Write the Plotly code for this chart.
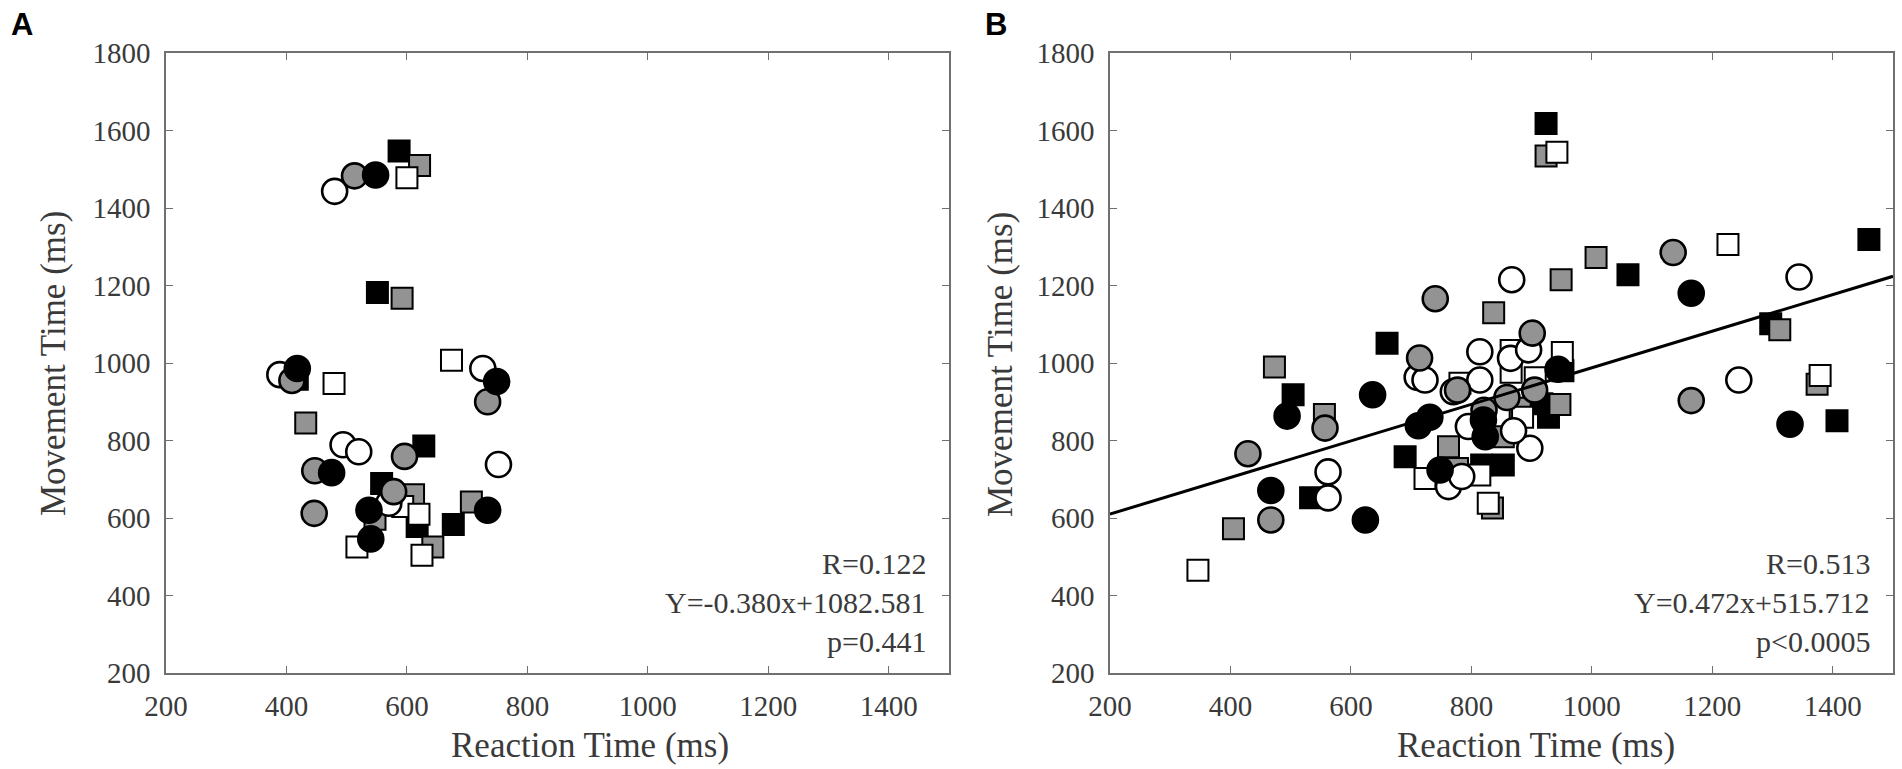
import plotly.graph_objects as go

# ---- panel A: reaction time (x) / movement time (y), ms ----
a_open_circ_rt = [480, 389, 726, 494, 520, 752, 570]
a_open_circ_mt = [1443, 970, 986, 789, 771, 738, 638]
a_gray_circ_rt = [513, 409, 734, 596, 447, 446, 578]
a_gray_circ_mt = [1483, 955, 900, 759, 722, 612, 668]
a_black_circ_rt = [548, 418, 749, 475, 537, 734, 540]
a_black_circ_mt = [1485, 986, 952, 717, 620, 620, 546]
a_open_sq_rt = [600, 479, 674, 593, 620, 517, 625]
a_open_sq_mt = [1478, 947, 1007, 630, 610, 525, 504]
a_gray_sq_rt = [621, 592, 432, 611, 547, 707, 643]
a_gray_sq_mt = [1510, 1167, 845, 660, 597, 641, 525]
a_black_sq_rt = [587, 551, 418, 628, 558, 617, 677]
a_black_sq_mt = [1547, 1182, 958, 786, 689, 578, 583]

# ---- panel B ----
b_open_circ_rt = [867, 1344, 814, 865, 895, 710, 723, 814, 770, 795, 897, 762, 784, 562, 562, 1244, 870]
b_open_circ_mt = [1215, 1222, 1029, 1012, 1034, 963, 956, 956, 926, 836, 780, 681, 707, 719, 652, 956, 825]
b_gray_circ_rt = [1135, 740, 901, 714, 777, 859, 821, 905, 1165, 429, 557, 467]
b_gray_circ_mt = [1285, 1166, 1077, 1013, 930, 911, 878, 930, 903, 766, 832, 595]
b_black_circ_rt = [1165, 944, 494, 636, 712, 731, 820, 823, 748, 1329, 467, 624]
b_black_circ_mt = [1180, 984, 863, 918, 838, 860, 853, 810, 724, 842, 671, 595]
b_open_sq_rt = [942, 1226, 951, 866, 866, 906, 781, 885, 723, 814, 828, 1379, 346]
b_open_sq_mt = [1544, 1306, 1027, 1032, 976, 962, 948, 860, 702, 711, 638, 968, 465]
b_gray_sq_rt = [924, 1007, 949, 837, 1312, 473, 556, 947, 881, 853, 762, 777, 835, 1374, 405]
b_gray_sq_mt = [1534, 1272, 1215, 1130, 1086, 990, 867, 893, 883, 810, 784, 728, 626, 945, 572]
b_black_sq_rt = [924, 1460, 1060, 660, 1297, 504, 952, 928, 917, 690, 817, 853, 1407, 533]
b_black_sq_mt = [1618, 1319, 1228, 1051, 1101, 918, 980, 860, 895, 758, 737, 737, 851, 652]

# regression shown in panel B
b_slope = 0.472
b_intercept = 515.712

stats_a = ["R=0.122", "Y=-0.380x+1082.581", "p=0.441"]
stats_b = ["R=0.513", "Y=0.472x+515.712", "p<0.0005"]

x_ticks = [200, 400, 600, 800, 1000, 1200, 1400]
y_ticks = [200, 400, 600, 800, 1000, 1200, 1400, 1600, 1800]
x_range = [200, 1500]
y_range = [200, 1800]

GRAY = "#939393"
SERIF = "Liberation Serif, Times New Roman, serif"
TXT = "#3a3a3a"

fig = go.Figure()


def add_group(x, y, xa, ya, symbol, fill):
    if symbol == "circle":
        mk = dict(symbol="circle", size=25, color=fill, line=dict(color="black", width=2.6))
    else:
        mk = dict(symbol="square", size=21, color=fill, line=dict(color="black", width=2))
    fig.add_trace(go.Scatter(x=x, y=y, mode="markers", marker=mk,
                             xaxis=xa, yaxis=ya, showlegend=False))


# draw order: squares (black, gray, open) then circles (open, gray, black)
for xa, ya, grp in [
    ("x", "y", [(a_black_sq_rt, a_black_sq_mt, "square", "black"),
                (a_gray_sq_rt, a_gray_sq_mt, "square", GRAY),
                (a_open_sq_rt, a_open_sq_mt, "square", "white"),
                (a_open_circ_rt, a_open_circ_mt, "circle", "white"),
                (a_gray_circ_rt, a_gray_circ_mt, "circle", GRAY),
                (a_black_circ_rt, a_black_circ_mt, "circle", "black")]),
    ("x2", "y2", [(b_black_sq_rt, b_black_sq_mt, "square", "black"),
                  (b_gray_sq_rt, b_gray_sq_mt, "square", GRAY),
                  (b_open_sq_rt, b_open_sq_mt, "square", "white"),
                  (b_open_circ_rt, b_open_circ_mt, "circle", "white"),
                  (b_gray_circ_rt, b_gray_circ_mt, "circle", GRAY),
                  (b_black_circ_rt, b_black_circ_mt, "circle", "black")]),
]:
    for x, y, sym, fill in grp:
        add_group(x, y, xa, ya, sym, fill)

fit_x = [x_range[0], x_range[1]]
fit_y = [b_slope * v + b_intercept for v in fit_x]
fig.add_trace(go.Scatter(x=fit_x, y=fit_y, mode="lines", line=dict(color="black", width=3),
                         xaxis="x2", yaxis="y2", showlegend=False))

axis_common = dict(showline=True, linecolor="#707070", linewidth=1.5, mirror="ticks",
                   ticks="inside", ticklen=7, tickwidth=1.3, tickcolor="#707070",
                   showgrid=False, zeroline=False, automargin=False,
                   tickfont=dict(family=SERIF, size=29, color=TXT))

y_dom = [1 - 673 / 769, 1 - 53 / 769]
fig.update_layout(
    width=1902, height=769, autosize=False,
    margin=dict(l=0, r=0, t=0, b=0),
    plot_bgcolor="white", paper_bgcolor="white",
    xaxis=dict(domain=[166 / 1902, 949 / 1902], range=x_range, tickvals=x_ticks,
               ticklabelstandoff=6, anchor="y", **axis_common),
    yaxis=dict(domain=y_dom, range=y_range, tickvals=y_ticks,
               ticklabelstandoff=8, anchor="x", **axis_common),
    xaxis2=dict(domain=[1110 / 1902, 1893 / 1902], range=x_range, tickvals=x_ticks,
                ticklabelstandoff=6, anchor="y2", **axis_common),
    yaxis2=dict(domain=y_dom, range=y_range, tickvals=y_ticks,
                ticklabelstandoff=8, anchor="x2", **axis_common),
)

ann = []
# axis titles
for cx in [590, 1536]:
    ann.append(dict(text="Reaction Time (ms)", x=cx / 1902, y=1 - 745 / 769,
                    xanchor="center", yanchor="middle",
                    font=dict(family=SERIF, size=35, color=TXT)))
for cx in [54, 1001]:
    ann.append(dict(text="Movement Time (ms)", x=cx / 1902, y=1 - 364 / 769, textangle=-90,
                    xanchor="center", yanchor="middle",
                    font=dict(family=SERIF, size=35, color=TXT)))
# stats text
for rx, lines in [(928, stats_a), (1872, stats_b)]:
    for ty, s in zip([563, 602, 641], lines):
        ann.append(dict(text=s, x=rx / 1902, y=1 - ty / 769, xanchor="right", yanchor="middle",
                        font=dict(family=SERIF, size=30, color=TXT)))
# panel letters
for cx, lab in [(22, "A"), (996, "B")]:
    ann.append(dict(text="<b>%s</b>" % lab, x=cx / 1902, y=1 - 24 / 769,
                    xanchor="center", yanchor="middle",
                    font=dict(family="Liberation Sans, Arial, sans-serif", size=31, color="black")))

for a in ann:
    a.update(xref="paper", yref="paper", showarrow=False)
fig.update_layout(annotations=ann)

# drop the default body margin so the 1902x769 figure fills the window exactly
fig.write_html("out.html", config={"displayModeBar": False},
               post_script="document.body.style.margin='0';document.body.style.overflow='hidden';")
